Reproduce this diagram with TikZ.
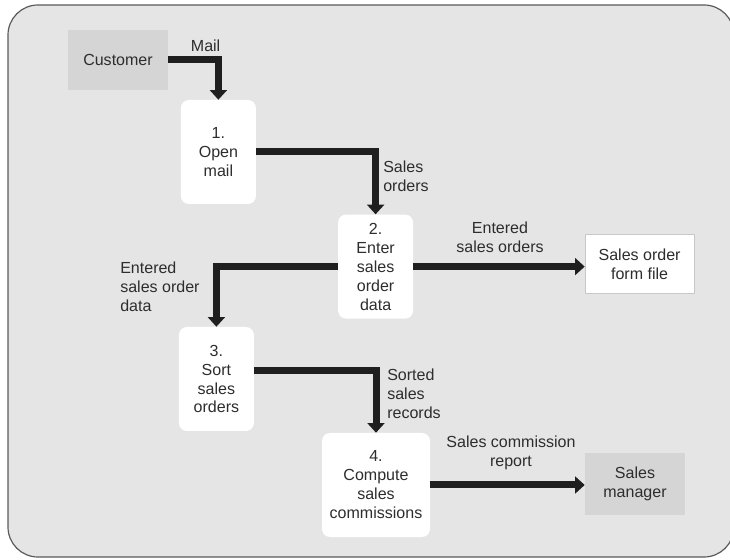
\documentclass[tikz,border=0pt]{standalone}
\usepackage{fontspec}
\setmainfont{Liberation Sans}
\usetikzlibrary{arrows.meta}
\definecolor{panel}{RGB}{229, 229, 229}
\definecolor{frame}{RGB}{90, 90, 90}
\definecolor{entitygray}{RGB}{213, 213, 213}
\definecolor{ink}{RGB}{45, 45, 45}
\definecolor{filerule}{RGB}{200, 200, 200}

\begin{document}
\begin{tikzpicture}[
        font=\fontsize{11.4}{13.5}\selectfont,
        process/.style={fill=white, rounded corners=0.2cm, align=center, text=ink, inner sep=0pt,
                        minimum width=1.875cm, minimum height=2.6cm},
        entity/.style={fill=entitygray, align=center, text=ink, minimum width=2.5cm, minimum height=1.5cm},
        store/.style={fill=white, draw=filerule, line width=0.6pt, align=center, text=ink,
                      minimum width=2.725cm, minimum height=1.475cm},
        flow/.style={line width=0.175cm, color=black!88, -{Triangle[length=0.24cm, width=0.42cm]}},
        flowlabel/.style={text=ink, inner sep=0pt}
    ]
    \useasboundingbox (0,0) rectangle (18.25,13.975);
    % panel
    \filldraw[frame, fill=panel, line width=0.85pt, rounded corners=0.75cm] (0.20,0.05) rectangle (18.35,13.85);

    % external entities and store
    \node[entity]                        (customer) at ( 2.95,12.475) {Customer};
    \node[entity, minimum height=1.55cm] (manager)  at (15.875,1.875) {Sales\\manager};
    \node[store]                         (file)     at (15.99, 7.375) {Sales order\\form file};

    % processes
    \node[process]                      (open)    at ( 5.46,10.175) {1.\\Open\\mail};
    \node[process]                      (enter)   at ( 9.39, 7.31)  {2.\\Enter\\sales\\order\\data};
    \node[process]                      (sort)    at ( 5.41, 4.50)  {3.\\Sort\\sales\\orders};
    \node[process, minimum width=2.7cm] (compute) at ( 9.40, 1.85)  {4.\\Compute\\sales\\commissions};

    % flows
    \draw[flow] (customer.east) -| (open.north);
    \draw[flow] (open.east) -| (enter.north);
    \draw[flow] (enter.east) -- (enter.east -| file.west);
    \draw[flow] (enter.west) -| (sort.north);
    \draw[flow] ([yshift=0.22cm]sort.east) -| (compute.north);
    \draw[flow] (compute.east) -- (compute.east -| manager.west);

    % flow labels
    \node[flowlabel]                          (lmail)    at ( 5.14,12.84)  {Mail};
    \node[flowlabel, anchor=west, align=left] (lorders)  at ( 9.575,9.575) {Sales\\orders};
    \node[flowlabel, align=center]            (lentered) at (12.50, 8.05)  {Entered\\sales orders};
    \node[flowlabel, anchor=west, align=left] (ldata)    at ( 3.00, 6.80)  {Entered\\sales order\\data};
    \node[flowlabel, anchor=west, align=left] (lsorted)  at ( 9.675,4.125) {Sorted\\sales\\records};
    \node[flowlabel, align=center]            (lreport)  at (12.775,2.65)  {Sales commission\\report};
\end{tikzpicture}
\end{document}
